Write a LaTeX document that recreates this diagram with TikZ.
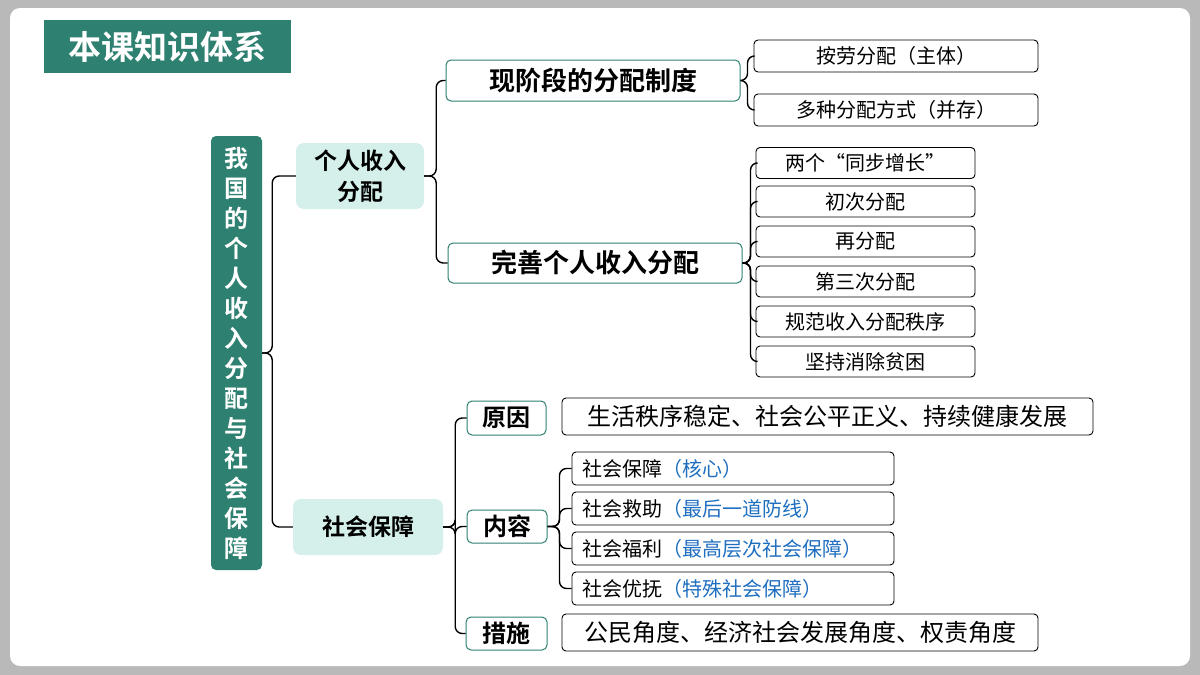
\documentclass[tikz,border=0pt]{standalone}
\usepackage{fontspec}
\newfontfamily\cjk{Noto Sans CJK SC}
\newfontfamily\cjkb{Noto Sans CJK SC Bold}
\begin{document}
\begin{tikzpicture}[x=1pt,y=-1pt,
  gbox/.style={draw=none,fill=tgreen,text=white,inner sep=0pt},
  lbox/.style={fill=lgreen,rounded corners=8pt,inner sep=0pt,font=\cjkb\fontsize{23}{31}\selectfont,align=center},
  hbox/.style={draw=tgreen,line width=1pt,rounded corners=5pt,fill=white,inner sep=0pt,font=\cjkb\fontsize{26}{28}\selectfont},
  sbox/.style={draw=black,line width=0.9pt,rounded corners=4pt,fill=white,inner sep=0pt,font=\cjk\fontsize{20}{22}\selectfont},
  br/.style={draw=black,line width=1.4pt,rounded corners=7pt}]
\definecolor{tgreen}{HTML}{2E8070}
\definecolor{lgreen}{HTML}{D5F0EA}
\definecolor{tblue}{HTML}{1F6FC0}
\useasboundingbox (0,0) rectangle (1200,675);
\fill[gray!55] (0,0) rectangle (1200,675);
\fill[white,rounded corners=10pt] (10,8) rectangle (1190,666);
\node[gbox,minimum width=247,minimum height=53,font=\cjkb\fontsize{33}{35}\selectfont] (title) at (167.5,46.5) {本课知识体系};
\node[gbox,rounded corners=5pt,minimum width=51,minimum height=434,text width=51,align=center,font=\cjkb\fontsize{24}{30}\selectfont] (root) at (236.5,353) {我\\国\\的\\个\\人\\收\\入\\分\\配\\与\\社\\会\\保\\障};
\node[lbox,minimum width=128,minimum height=66] (a) at (360,176) {个人收入\\分配};
\node[lbox,minimum width=150,minimum height=56] (b) at (368,527) {社会保障};
\node[hbox,minimum width=294,minimum height=41] (a1) at (593,80.5) {现阶段的分配制度};
\node[hbox,minimum width=294,minimum height=40] (a2) at (595,263) {完善个人收入分配};
\node[sbox,minimum width=284,minimum height=32] (a11) at (896,56) {按劳分配（主体）};
\node[sbox,minimum width=284,minimum height=32] (a12) at (896,110) {多种分配方式（并存）};
\foreach \t/\y [count=\i] in {两个“同步增长”/163,初次分配/201.5,再分配/241.5,第三次分配/281.5,规范收入分配秩序/321.5,坚持消除贫困/361.5}
  \node[sbox,minimum width=219,minimum height=31] (c\i) at (865.5,\y) {\t};
\node[hbox,minimum width=79,minimum height=34,font=\cjkb\fontsize{24}{26}\selectfont] (b1) at (506.5,418) {原因};
\node[hbox,minimum width=80,minimum height=33,font=\cjkb\fontsize{24}{26}\selectfont] (b2) at (507,526.5) {内容};
\node[hbox,minimum width=81,minimum height=33,font=\cjkb\fontsize{24}{26}\selectfont] (b3) at (506.5,633.5) {措施};
\node[sbox,minimum width=531,minimum height=37,font=\cjk\fontsize{24}{26}\selectfont] (b11) at (827.5,416.5) {生活秩序稳定、社会公平正义、持续健康发展};
\node[sbox,minimum width=476,minimum height=37,font=\cjk\fontsize{24}{26}\selectfont] (b31) at (800,632.5) {公民角度、经济社会发展角度、权责角度};
\foreach \t/\p/\y [count=\i] in {社会保障/核心/468.5,社会救助/最后一道防线/508.5,社会福利/最高层次社会保障/548.5,社会优抚/特殊社会保障/588.5}
  \node[sbox,minimum width=322,minimum height=33,text width=302,align=left] (d\i) at (733,\y) {\t{\color{tblue}（\p）}};
% connectors
\foreach \c in {a,b} \draw[br] (root.east) -- ++(10,0) |- (\c.west);
\foreach \c in {a1,a2} \draw[br] (a.east) -- ++(12,0) |- (\c.west);
\foreach \c in {a11,a12} \draw[br] (a1.east) -- ++(7,0) |- (\c.west);
\foreach \c in {c1,c2,c3,c4,c5,c6} \draw[br] (a2.east) -- ++(8,0) |- (\c.west);
\foreach \c in {b1,b2,b3} \draw[br] (b.east) -- ++(12,0) |- (\c.west);
\foreach \c in {d1,d2,d3,d4} \draw[br] (b2.east) -- ++(12,0) |- (\c.west);
\end{tikzpicture}
\end{document}
